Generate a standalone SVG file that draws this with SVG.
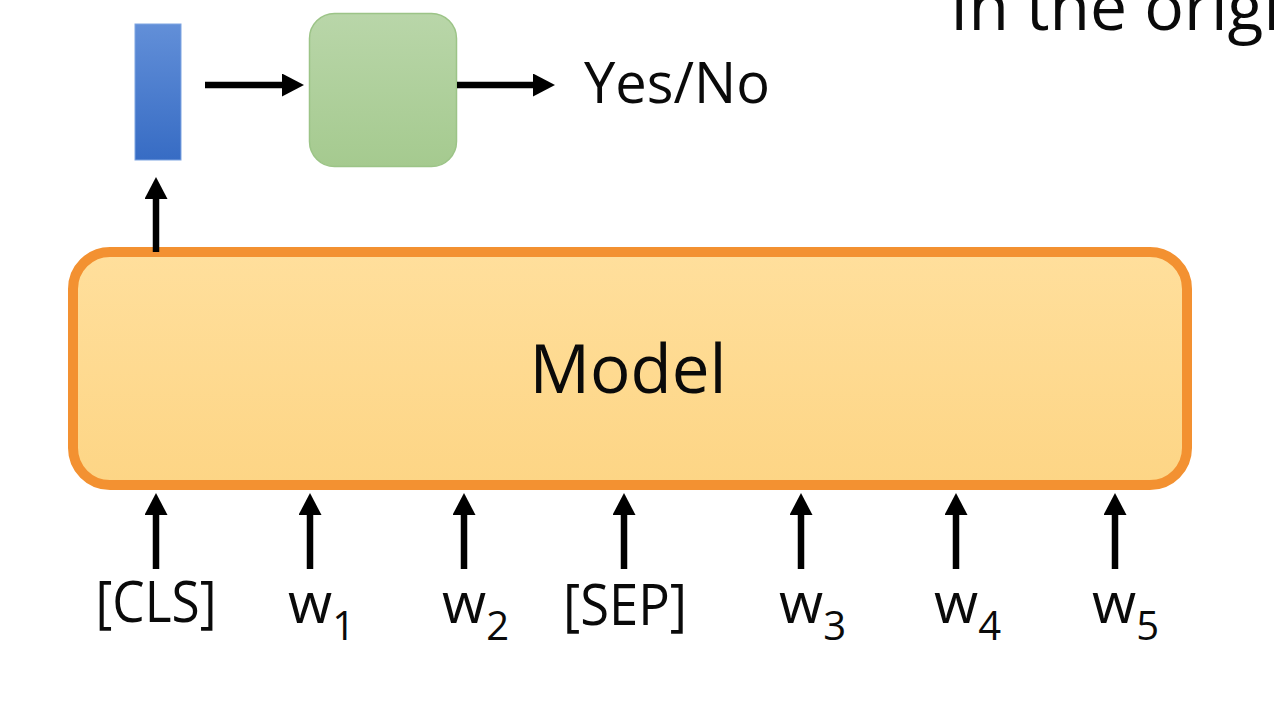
<svg xmlns="http://www.w3.org/2000/svg" width="1274" height="702" viewBox="0 0 1274 702">
  <defs>
    <linearGradient id="gBlue" x1="0" y1="0" x2="0" y2="1">
      <stop offset="0" stop-color="#628FD8"/>
      <stop offset="1" stop-color="#376CC4"/>
    </linearGradient>
    <linearGradient id="gGreen" x1="0" y1="0" x2="0" y2="1">
      <stop offset="0" stop-color="#B9D6A9"/>
      <stop offset="1" stop-color="#A5CA8F"/>
    </linearGradient>
    <linearGradient id="gModel" x1="0" y1="0" x2="0" y2="1">
      <stop offset="0" stop-color="#FFDF9C"/>
      <stop offset="1" stop-color="#FDD585"/>
    </linearGradient>
    <marker id="arrow" markerUnits="userSpaceOnUse" markerWidth="22" markerHeight="23" refX="8" refY="11.5" orient="auto">
      <path d="M0,0 L22,11.5 L0,23 Z" fill="#000"/>
    </marker>
  </defs>
  <style>
    .txt { font-family: "Open Sans", "Noto Sans", "Liberation Sans", sans-serif; fill: #0A0A0A; }
    .conn { stroke: #000; stroke-width: 6.5; fill: none; marker-end: url(#arrow); }
  </style>
  <rect width="1274" height="702" fill="#FFFFFF"/>

  <text class="txt" x="950" y="30" font-size="66">In the original</text>

  <g id="cls-vector">
    <rect x="135" y="24" width="46" height="136" fill="url(#gBlue)" stroke="#7FA5E2" stroke-width="1"/>
  </g>

  <g id="classifier">
    <rect x="309.5" y="13.5" width="147" height="153" rx="25" fill="url(#gGreen)" stroke="#9CC487" stroke-width="1.5"/>
  </g>

  <g id="output-label">
    <text class="txt" x="584" y="103" font-size="56" textLength="186" lengthAdjust="spacingAndGlyphs">Yes/No</text>
  </g>

  <g id="model">
    <rect x="73" y="252" width="1114" height="233" rx="37" fill="url(#gModel)" stroke="#F39131" stroke-width="10"/>
    <text class="txt" x="628" y="393" font-size="68" text-anchor="middle" textLength="197" lengthAdjust="spacingAndGlyphs">Model</text>
  </g>

  <g id="inputs">
    <text class="txt" x="156" y="622" font-size="57" text-anchor="middle" textLength="121" lengthAdjust="spacingAndGlyphs">[CLS]</text>
    <text class="txt" x="288" y="623" font-size="57">w<tspan font-size="40" dy="17">1</tspan></text>
    <text class="txt" x="442" y="623" font-size="57">w<tspan font-size="40" dy="17">2</tspan></text>
    <text class="txt" x="625" y="625" font-size="57" text-anchor="middle" textLength="124" lengthAdjust="spacingAndGlyphs">[SEP]</text>
    <text class="txt" x="779" y="623" font-size="57">w<tspan font-size="40" dy="17">3</tspan></text>
    <text class="txt" x="934" y="623" font-size="57">w<tspan font-size="40" dy="17">4</tspan></text>
    <text class="txt" x="1092" y="623" font-size="57">w<tspan font-size="40" dy="17">5</tspan></text>
  </g>

  <g id="connectors">
    <line class="conn" x1="205" y1="85" x2="290" y2="85"/>
    <line class="conn" x1="457" y1="85" x2="541" y2="85"/>
    <line class="conn" x1="156" y1="252" x2="156" y2="191"/>
    <line class="conn" x1="156" y1="569" x2="156" y2="507"/>
    <line class="conn" x1="310" y1="569" x2="310" y2="507"/>
    <line class="conn" x1="464" y1="569" x2="464" y2="507"/>
    <line class="conn" x1="624" y1="569" x2="624" y2="507"/>
    <line class="conn" x1="801" y1="569" x2="801" y2="507"/>
    <line class="conn" x1="956" y1="569" x2="956" y2="507"/>
    <line class="conn" x1="1115" y1="569" x2="1115" y2="507"/>
  </g>
</svg>
